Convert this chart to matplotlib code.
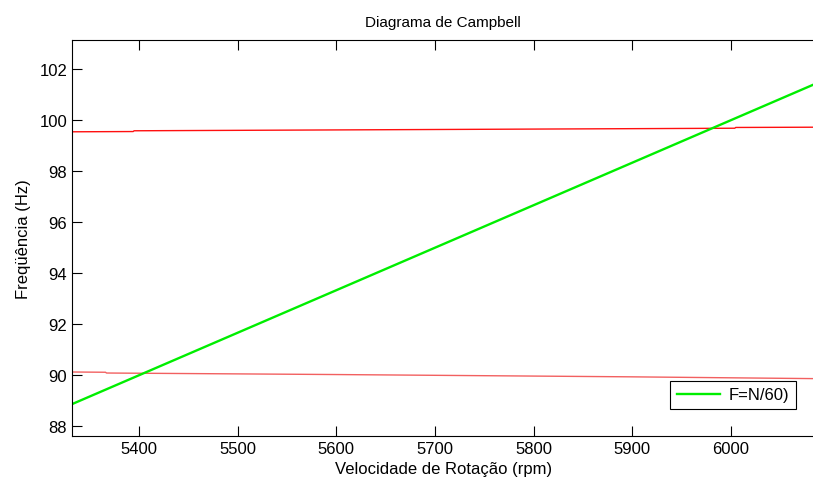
import matplotlib
matplotlib.use("Agg")
import matplotlib.pyplot as plt

plt.rcParams['font.family'] = ['Liberation Sans', 'DejaVu Sans']

# Data
rpm_green = [5332, 6085]
freq_green = [88.87, 101.42]

rpm_red_top = [5332, 5394, 5395, 5700, 6004, 6005, 6085]
freq_red_top = [99.55, 99.56, 99.59, 99.64, 99.69, 99.72, 99.73]

rpm_red_bot = [5332, 5366, 5367, 5600, 5900, 6085]
freq_red_bot = [90.13, 90.12, 90.09, 90.03, 89.94, 89.87]

xticks = [5400, 5500, 5600, 5700, 5800, 5900, 6000]
yticks = [88, 90, 92, 94, 96, 98, 100, 102]

fig = plt.figure(figsize=(8.13, 4.81), dpi=100)
ax = fig.add_axes([72/813, 1-437/481, 1-72/813+0.002, (437-41)/481])

ax.plot(rpm_red_top, freq_red_top, color='#ff1010', lw=1.0)
ax.plot(rpm_red_bot, freq_red_bot, color='#f26060', lw=1.0)
ax.plot(rpm_green, freq_green, color='#00ee00', lw=1.7, label='F=N/60)')

ax.set_xlim(5332, 6085)
ax.set_ylim(87.62, 103.15)
ax.set_xticks(xticks)
ax.set_yticks(yticks)
ax.tick_params(direction='in', top=True, right=False, length=7, labelsize=12, width=0.8)
ax.spines['right'].set_visible(False)
for s in ax.spines.values():
    s.set_linewidth(0.8)

ax.set_title('Diagrama de Campbell', fontsize=11, pad=10)
ax.set_xlabel('Velocidade de Rotação (rpm)', fontsize=12, labelpad=4)
ax.set_ylabel('Freqüência (Hz)', fontsize=12, labelpad=6)

leg = ax.legend(loc='lower right', bbox_to_anchor=(0.975, 0.068), fontsize=12,
                fancybox=False, framealpha=1, edgecolor='black',
                handlelength=2.6, borderpad=0.4, borderaxespad=0, handletextpad=0.5)
leg.get_frame().set_linewidth(0.8)

fig.savefig('out.png', dpi=100)
